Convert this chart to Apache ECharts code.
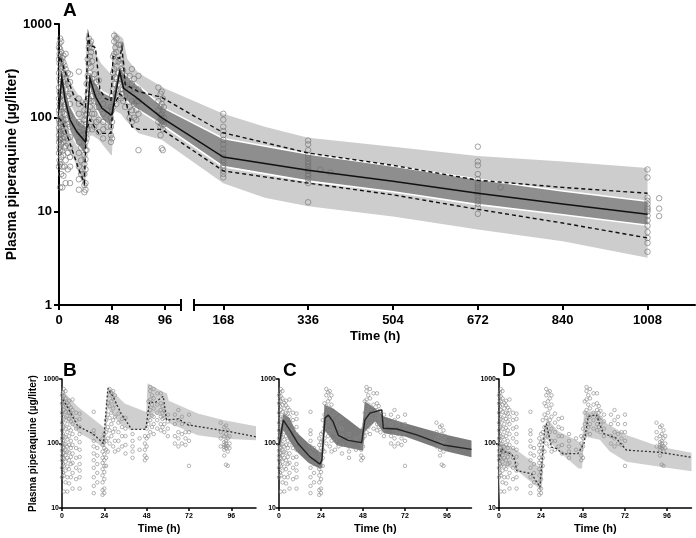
<!DOCTYPE html>
<html><head><meta charset="utf-8">
<script src="https://cdn.jsdelivr.net/npm/echarts@6/dist/echarts.min.js"></script>
<style>html,body{margin:0;padding:0;background:#fff}#main{width:696px;height:538px}</style>
</head><body><div id="main"></div>
<script>
const FONT = "'Liberation Sans', Arial, sans-serif";

// ---------- Observed concentrations (µg/liter), grouped by sampling time (h) ----------
const obsTimes = [0,0.5,1,2,3,4,5,6,8,10,18,20,23,24,25,26,27,28,29,30,32,34,36,40,44,47,48,49,50,51,52,54,56,57,58,60,64,66,68,70,72,90,92,93,94,95];
const obsConc = [
 [30,42,55,65,78,95,120,160,210,300,420,560],
 [35,48,60,72,88,110,140,190,260,380,480,620],
 [18,32,45,58,70,85,100,130,180,240,330,450,540,700],
 [25,38,52,66,80,98,125,170,230,310,400,500,650],
 [18,30,44,60,75,90,115,150,200,270,350,430],
 [24,40,55,72,95,130,175,240,300,390,460],
 [30,48,62,85,110,160,220,290,360],
 [20,35,50,70,95,140,200,260,330,480],
 [28,42,60,85,120,170,230,300],
 [20,30,38,48,62,80,105,140,180,240,290],
 [17,22,30,42,55,70,90,110,140,160,310],
 [25,35,48,65,85],
 [16,19,25,32,40,50,60,75,95,120],
 [17,20,28,36,45,55,68,85,105,140],
 [45,60,80,110,150,230],
 [75,120,180,280,420],
 [100,160,250,380,560,700],
 [130,200,300,450,620],
 [90,150,230,350,500,650],
 [75,110,170,260,400,560],
 [80,110,150,210,290],
 [90,130,180,240],
 [70,95,130,170,250],
 [60,75,90,110,140],
 [80,120],
 [55,65,80,100,130],
 [60,90,120,170],
 [130,200,300,450],
 [150,230,330,480,650,750],
 [180,270,400,560],
 [140,200,260,350,500,700],
 [170,230,300,400,600],
 [160,200,260,330,420,600],
 [180,240,300,380],
 [150,200,250,320],
 [130,170,220,280],
 [100,130,200,280],
 [90,120,150,230,330],
 [100,140,200,260],
 [95,120,150],
 [45,110,150,200,280],
 [90,120,150,210],
 [65,80,88,95,105,130,180],
 [47,85,92,100,110,140,190],
 [45,75,90,120,160],
 [85,100,130]
];
const lateTimes = [168,336,360,380,672,717,1008,1031];
const lateConc = [
 [23,25,27,29,31,33,35,38,42,46,52,58,65,72,80,95,110],
 [12.5,20,22,24,25,27,28,30,32,34,37,40,45,52,57],
 [28],
 [26],
 [9.4,11,12,13,14,15,16,17,18,19,20,22,25,31,34,49],
 [18],
 [3.7,4.6,5.2,6,7,8,9,10,10.5,11,12,13,14,23,28],
 [8.9,10.7,13.8]
];

// ---------- Panel A: VPC ----------
const aMedT = [0,2.5,5.5,10,16,24,24.5,28,33,39,47,48,55,58.5,69,93,168,336,504,672,840,1008];
const aMedV = [121,270,155,95,71,55,60,263,168,126,107,110,310,206,168,100,38,27.5,21,15.6,12,9.3];
const aP95T = [0,1,5,10,15,24,26.5,28,33,37,42,47,49,55,57,60,72,93,168,336,504,672,840,1008];
const aP95V = [400,450,320,220,155,130,760,600,560,200,160,150,450,430,570,225,190,165,69,42,31,21.5,18,15.6];
const aP5T = [0,4,12,18,23,24.5,28,36,47,49,55,60,66,72,93,168,336,504,672,840,1008];
const aP5V = [100,85,45,28,20,70,95,68,68,130,180,160,80,75,75,27,20,15,10.5,7.5,5.2];
const aPiTopT = [0,2,6,12,18,24,24.5,27,32,38,47,48,49.5,58,62,72,96,168,250,336,504,672,840,1008];
const aPiTopV = [480,480,330,220,170,150,800,780,520,380,290,290,850,700,420,300,205,110,80,61,49,39,34,29];
const aPiBotT = [0,3,8,14,20,24,24.5,30,36,47,48,49.5,56,60,72,93,168,250,336,504,672,840,1008];
const aPiBotV = [30,55,45,35,22,17,60,65,58,40,40,120,110,95,68,58,20,14,11.3,8.8,6.4,4.8,3.2];
const aCiT = [0,2.5,6,10,16,24,24.5,28,33,39,47,48,55,58.5,70,96,168,336,504,672,840,1008];
const aCiTop = [200,340,210,135,100,80,90,330,240,190,170,170,380,300,230,125,60,41,30.5,22,16.5,12.8];
const aCiBot = [75,200,115,70,52,40,42,200,130,95,80,80,250,160,125,80,30,21,16.2,11.8,9.2,7.1];

// ---------- Panel B ----------
const bLineT = [0.5,3.5,9,17.5,23.5,26,29,33.5,39.5,47.5,49.6,52.7,57.4,59.3,66,71.6,95,110];
const bLineV = [480,350,185,142,100,714,530,291,166,166,440,430,540,232,240,194,153,127];
const bTopT = [0,9,23.5,24.2,26,35.5,47.8,48.5,58,59.5,60.5,77,92,110];
const bTopV = [680,370,180,180,760,417,309,860,620,600,460,291,230,185];
const bBotT = [0.5,9,23.5,24.5,26,33,39,47.8,48.5,52,60,61,77,92,110];
const bBotV = [275,151,88,88,349,200,160,170,200,296,232,204,134,119,112];

// ---------- Panel C ----------
const cLineT = [0,2.5,6.3,11,17.7,23.4,24.5,26.3,28.2,31,33.9,39.6,47.2,49.1,52,58.7,59.6,67.3,78.7,93.9,110];
const cLineV = [94,230,160,99,62,48,55,250,275,216,134,112,103,232,295,333,172,168,136,95,81];
const cTopT = [0,2.5,6,10,17,23.4,24.3,26,31,40,46.3,47.5,49,55,60,72,96,110];
const cTopV = [130,290,250,150,100,74,74,400,349,230,170,170,448,353,262,206,136,111];
const cBotT = [0,2.5,6,10,17,23.4,24.5,26,33,47,48,49,55,60,72,96,110];
const cBotV = [70,160,110,75,50,40.5,42,160,94,78,78,153,220,144,128,75,61];

// ---------- Panel D ----------
const dLineT = [0,1.5,3.4,7.2,9.1,10.1,18.6,23.4,26.2,27,30,33,36.7,45.2,48.6,51,55.7,59.5,67,72.8,92,110];
const dLineV = [55,83,74,69,55,38,34,21,181,203,88,83,69,70,100,262,278,144,121,79,73,61];
const dTopT = [0,2,9,23.4,24.3,27.2,34.1,45.5,47.5,48.6,55.7,61.4,72.8,92,110];
const dTopV = [90,99,83,43,43,247,153,107,100,313,313,206,136,89,72];
const dBotT = [0,1,9,23.4,24.5,26,34.1,45.5,47.5,48.6,57.6,63.3,72.8,92,110];
const dBotV = [12,45,40.5,19.5,20,128,75,41,41,128,114,75,52,43.5,37];

const xTicksA1 = [0,48,96];
const xTicksA2 = [168,336,504,672,840,1008];
const xTicksSmall = [0,24,48,72,96];

// ---------- helpers ----------
function flatten(times, conc) {
  const out = [];
  times.forEach((t, i) => conc[i].forEach(v => out.push([t, v])));
  return out;
}
function pairs(T, V) { return T.map((t, i) => [t, V[i]]); }
const plain = v => String(Math.round(v * 1000) / 1000);
const obsEarly = flatten(obsTimes, obsConc);
const obsLate = flatten(lateTimes, lateConc);

const chart = echarts.init(document.getElementById('main'));
const A_SPLIT = 110.5;
function pA(t, v) {
  return chart.convertToPixel({ gridIndex: t <= A_SPLIT ? 0 : 1 }, [t, v]);
}
function aPolygon(topT, topV, botT, botV, fill, z, stroke, lw) {
  return {
    type: 'custom', coordinateSystem: 'none', data: [[0]], z: z, silent: true,
    renderItem: function () {
      const top = topT.map((t, i) => pA(t, topV[i]));
      const bot = botT.map((t, i) => pA(t, botV[i])).reverse();
      const children = [{ type: 'polygon', shape: { points: top.concat(bot) }, style: { fill: fill } }];
      if (stroke) {
        children.push({ type: 'polyline', shape: { points: top }, style: { stroke: stroke, lineWidth: lw, fill: null } });
        children.push({ type: 'polyline', shape: { points: bot }, style: { stroke: stroke, lineWidth: lw, fill: null } });
      }
      return { type: 'group', children: children };
    }
  };
}
function aLine(T, V, color, lw, dash, z) {
  return {
    type: 'custom', coordinateSystem: 'none', data: [[0]], z: z, silent: true,
    renderItem: function () {
      return { type: 'polyline', shape: { points: T.map((t, i) => pA(t, V[i])) },
        style: { stroke: color, lineWidth: lw, lineDash: dash, fill: null } };
    }
  };
}
function band(idx, topT, topV, botT, botV, fill) {
  return {
    type: 'custom', xAxisIndex: idx, yAxisIndex: idx, data: [[topT[0], topV[0]]], z: 1, silent: true,
    renderItem: function (params, api) {
      const top = topT.map((t, i) => api.coord([t, topV[i]]));
      const bot = botT.map((t, i) => api.coord([t, botV[i]])).reverse();
      return { type: 'polygon', shape: { points: top.concat(bot) }, style: { fill: fill } };
    }
  };
}
function scatter(idx, data, size, color) {
  return {
    type: 'scatter', xAxisIndex: idx, yAxisIndex: idx, data: data, z: 3, silent: true,
    symbol: 'circle', symbolSize: size,
    itemStyle: { color: 'rgba(0,0,0,0)', borderColor: color, borderWidth: 0.8 }
  };
}
function line(idx, T, V, color, lw, type) {
  return {
    type: 'line', xAxisIndex: idx, yAxisIndex: idx, data: pairs(T, V), z: 4, silent: true,
    showSymbol: false, symbol: 'none',
    lineStyle: { color: color, width: lw, type: type }
  };
}

const axisLineBig = { show: true, lineStyle: { color: '#000', width: 2 } };
const axisLineSmall = { show: true, lineStyle: { color: '#000', width: 1.5 } };
const bigLabel = { color: '#000', fontFamily: FONT, fontWeight: 'bold', fontSize: 13, formatter: plain };
const smallLabel = { color: '#000', fontFamily: FONT, fontWeight: 'bold', fontSize: 7, formatter: plain };

function xAxisSmall(idx) {
  return {
    type: 'value', gridIndex: idx, min: 0, max: 110,
    name: 'Time (h)', nameLocation: 'middle', nameGap: 15,
    nameTextStyle: { color: '#000', fontFamily: FONT, fontWeight: 'bold', fontSize: 11 },
    axisLine: axisLineSmall,
    axisTick: { show: true, length: 3, lineStyle: { color: '#000', width: 1.5 }, customValues: xTicksSmall },
    axisLabel: Object.assign({ margin: 5, customValues: xTicksSmall }, smallLabel),
    splitLine: { show: false }
  };
}
function yAxisSmall(idx, withName) {
  const ax = {
    type: 'log', logBase: 10, gridIndex: idx, min: 10, max: 1000,
    axisLine: axisLineSmall,
    axisTick: { show: true, length: 3, lineStyle: { color: '#000', width: 1.5 } },
    axisLabel: Object.assign({ margin: 3 }, smallLabel),
    splitLine: { show: false }, minorTick: { show: false }
  };
  if (withName) {
    ax.name = 'Plasma piperaquine (µg/liter)';
    ax.nameLocation = 'middle';
    ax.nameGap = 24;
    ax.nameTextStyle = { color: '#000', fontFamily: FONT, fontWeight: 'bold', fontSize: 10 };
  }
  return ax;
}

const option = {
  animation: false,
  backgroundColor: '#fff',
  grid: [
    { left: 59, top: 24, width: 122, height: 281 },
    { left: 194, top: 24, width: 501, height: 281 },
    { left: 62, top: 379, width: 194, height: 129 },
    { left: 279, top: 379, width: 192.5, height: 129 },
    { left: 499, top: 379, width: 192.5, height: 129 }
  ],
  xAxis: [
    { type: 'value', gridIndex: 0, min: 0, max: A_SPLIT, axisLine: axisLineBig,
      axisTick: { show: true, length: 5, lineStyle: { color: '#000', width: 2 }, customValues: xTicksA1 },
      axisLabel: Object.assign({ margin: 9, customValues: xTicksA1 }, bigLabel), splitLine: { show: false } },
    { type: 'value', gridIndex: 1, min: 110, max: 1102, axisLine: axisLineBig,
      axisTick: { show: true, length: 5, lineStyle: { color: '#000', width: 2 }, customValues: xTicksA2 },
      axisLabel: Object.assign({ margin: 9, customValues: xTicksA2 }, bigLabel), splitLine: { show: false } },
    xAxisSmall(2), xAxisSmall(3), xAxisSmall(4)
  ],
  yAxis: [
    { type: 'log', logBase: 10, gridIndex: 0, min: 1, max: 1000, axisLine: axisLineBig,
      axisTick: { show: true, length: 5, lineStyle: { color: '#000', width: 2 } },
      axisLabel: Object.assign({ margin: 7 }, bigLabel), splitLine: { show: false }, minorTick: { show: false },
      name: 'Plasma piperaquine (µg/liter)', nameLocation: 'middle', nameGap: 36,
      nameTextStyle: { color: '#000', fontFamily: FONT, fontWeight: 'bold', fontSize: 14 } },
    { type: 'log', logBase: 10, gridIndex: 1, min: 1, max: 1000, show: false },
    yAxisSmall(2, true), yAxisSmall(3, false), yAxisSmall(4, false)
  ],
  graphic: [
    { type: 'text', left: 63, top: 1, style: { text: 'A', font: 'bold 19px ' + FONT, fill: '#000' } },
    { type: 'text', left: 63, top: 361, style: { text: 'B', font: 'bold 19px ' + FONT, fill: '#000' } },
    { type: 'text', left: 283, top: 361, style: { text: 'C', font: 'bold 19px ' + FONT, fill: '#000' } },
    { type: 'text', left: 502, top: 361, style: { text: 'D', font: 'bold 19px ' + FONT, fill: '#000' } },
    { type: 'text', left: 350, top: 330, style: { text: 'Time (h)', font: 'bold 13px ' + FONT, fill: '#000' } },
    { type: 'line', shape: { x1: 181, y1: 299, x2: 181, y2: 311 }, style: { stroke: '#000', lineWidth: 2 } },
    { type: 'line', shape: { x1: 194, y1: 299, x2: 194, y2: 311 }, style: { stroke: '#000', lineWidth: 2 } }
  ],
  series: [
    // Panel A
    aPolygon(aPiTopT, aPiTopV, aPiBotT, aPiBotV, '#cdcdcd', 1),
    aPolygon(aCiT, aCiTop, aCiT, aCiBot, '#8e8e8e', 2, '#ffffff', 1.6),
    scatter(0, obsEarly, 5.5, '#707070'),
    scatter(1, obsLate, 5.5, '#707070'),
    aLine(aMedT, aMedV, '#111', 1.5, null, 5),
    aLine(aP95T, aP95V, '#111', 1.4, [4, 3], 5),
    aLine(aP5T, aP5V, '#111', 1.4, [4, 3], 5),
    // Panel B
    band(2, bTopT, bTopV, bBotT, bBotV, '#cfcfcf'),
    scatter(2, obsEarly, 3.5, '#8a8a8a'),
    line(2, bLineT, bLineV, '#333', 1.3, [2, 2]),
    // Panel C
    band(3, cTopT, cTopV, cBotT, cBotV, '#7a7a7a'),
    scatter(3, obsEarly, 3.5, '#8a8a8a'),
    line(3, cLineT, cLineV, '#222', 1.4, 'solid'),
    // Panel D
    band(4, dTopT, dTopV, dBotT, dBotV, '#cfcfcf'),
    scatter(4, obsEarly, 3.5, '#8a8a8a'),
    line(4, dLineT, dLineV, '#333', 1.3, [2, 2])
  ]
};
chart.setOption(option);
</script></body></html>
